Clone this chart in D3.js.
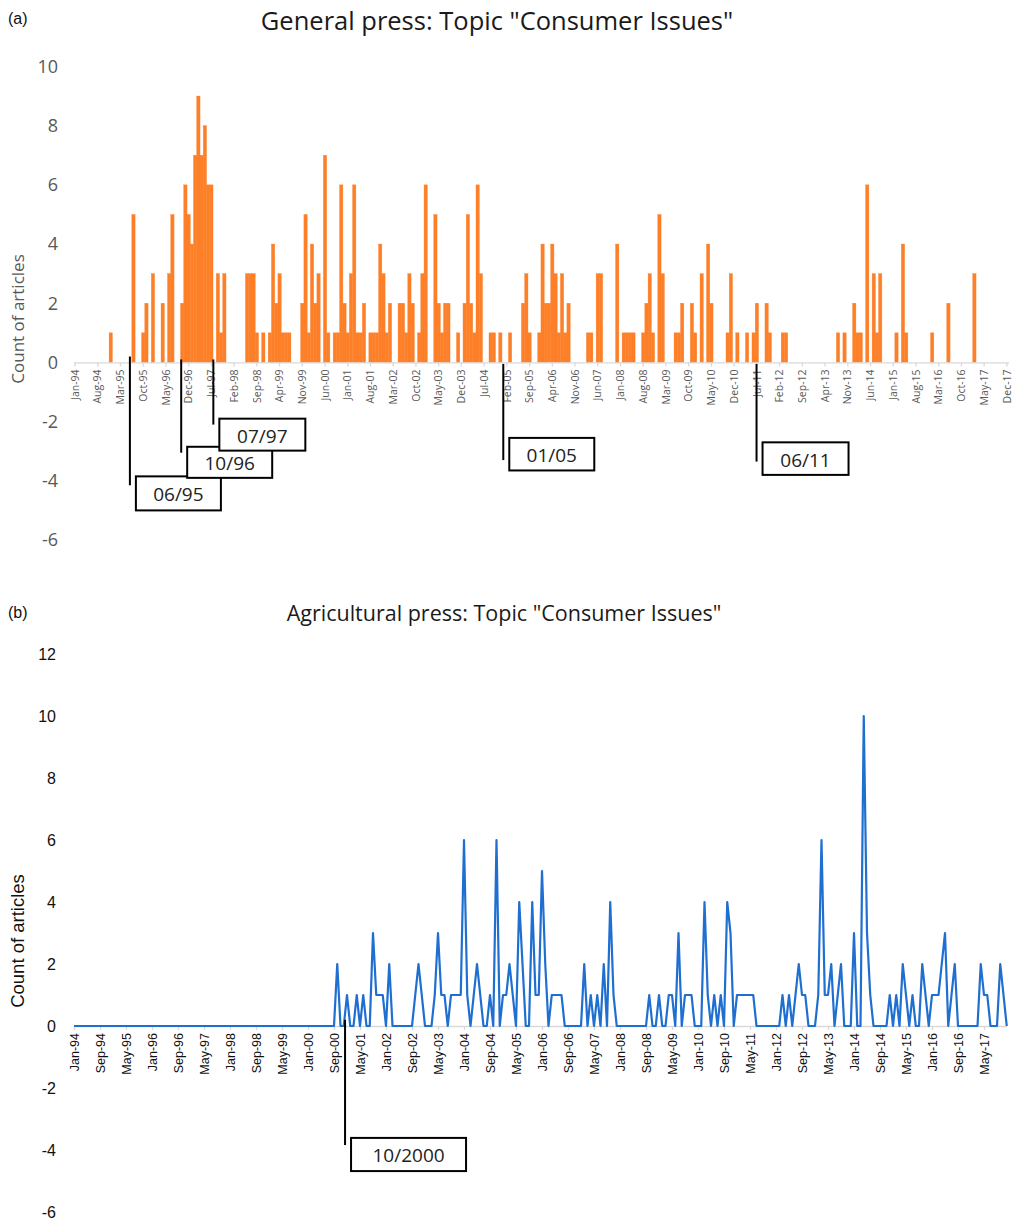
<!DOCTYPE html>
<html>
<head>
<meta charset="utf-8">
<script src="https://cdn.jsdelivr.net/npm/d3@7"></script>
<style>
    body { margin: 0; background: #fff; }
</style>
</head>
<body>
<div id="chart"></div>
<script>

// ---------------- data ----------------
const monthNames = ["Jan", "Feb", "Mar", "Apr", "May", "Jun", "Jul", "Aug", "Sep", "Oct", "Nov", "Dec"];
const firstYear = 1994;

// General press, monthly article counts, Jan-94 .. Dec-17 (one row per year)
const generalCounts = [
    0,0,0,0,0,0,0,0,0,0,0,1,   // 1994
    0,0,0,0,0,0,5,0,0,1,2,0,   // 1995
    3,0,0,2,0,3,5,0,0,2,6,5,   // 1996
    4,7,9,7,8,6,6,0,3,1,3,0,   // 1997
    0,0,0,0,0,3,3,3,1,0,1,0,   // 1998
    1,4,2,3,1,1,1,0,0,0,2,5,   // 1999
    1,4,2,3,0,7,1,0,1,1,6,2,   // 2000
    1,3,6,1,1,2,0,1,1,1,4,3,   // 2001
    1,2,0,0,2,2,1,3,2,0,1,3,   // 2002
    6,0,0,5,2,1,2,2,0,0,1,0,   // 2003
    2,5,2,1,6,3,0,0,1,1,0,1,   // 2004
    0,0,1,0,0,0,2,3,1,0,0,1,   // 2005
    4,2,2,4,3,1,3,1,2,0,0,0,   // 2006
    0,0,1,1,0,3,3,0,0,0,0,4,   // 2007
    0,1,1,1,1,0,0,1,2,3,1,0,   // 2008
    5,3,0,0,0,1,1,2,0,0,2,1,   // 2009
    0,3,0,4,2,0,0,0,0,1,3,0,   // 2010
    1,0,0,1,0,1,2,0,0,2,1,0,   // 2011
    0,0,1,1,0,0,0,0,0,0,0,0,   // 2012
    0,0,0,0,0,0,0,1,0,1,0,0,   // 2013
    2,1,1,0,6,0,3,1,3,0,0,0,   // 2014
    0,1,0,4,1,0,0,0,0,0,0,0,   // 2015
    1,0,0,0,0,2,0,0,0,0,0,0,   // 2016
    0,3,0,0,0,0,0,0,0,0,0,0    // 2017
];

// Agricultural press, monthly article counts, Jan-94 .. Dec-17
const agriCounts = [
    0,0,0,0,0,0,0,0,0,0,0,0,   // 1994
    0,0,0,0,0,0,0,0,0,0,0,0,   // 1995
    0,0,0,0,0,0,0,0,0,0,0,0,   // 1996
    0,0,0,0,0,0,0,0,0,0,0,0,   // 1997
    0,0,0,0,0,0,0,0,0,0,0,0,   // 1998
    0,0,0,0,0,0,0,0,0,0,0,0,   // 1999
    0,0,0,0,0,0,0,0,0,2,0,0,   // 2000
    1,0,0,1,0,1,0,0,3,1,1,1,   // 2001
    0,2,0,0,0,0,0,0,0,1,2,1,   // 2002
    0,0,0,1,3,1,1,0,1,1,1,1,   // 2003
    6,1,0,1,2,1,0,0,1,0,6,0,   // 2004
    1,1,2,1,0,4,2,0,0,4,1,1,   // 2005
    5,2,0,1,1,1,1,0,0,0,0,0,   // 2006
    0,2,0,1,0,1,0,2,0,4,1,0,   // 2007
    0,0,0,0,0,0,0,0,0,1,0,0,   // 2008
    1,0,0,1,1,0,3,0,1,1,1,0,   // 2009
    0,0,4,1,0,1,0,1,0,4,3,0,   // 2010
    1,1,1,1,1,1,0,0,0,0,0,0,   // 2011
    0,0,1,0,1,0,1,2,1,1,0,0,   // 2012
    0,1,6,1,1,2,0,1,2,0,0,0,   // 2013
    3,0,0,10,3,1,0,0,0,0,0,1,  // 2014
    0,1,0,2,1,0,1,0,0,2,1,0,   // 2015
    1,1,1,2,3,0,1,2,0,0,0,0,   // 2016
    0,0,0,2,1,1,0,0,0,2,1,0    // 2017
];

const generalTicks = d3.range(0, generalCounts.length, 7);   // Jan-94, Aug-94, Mar-95 ...
const agriTicks = d3.range(0, agriCounts.length, 8);         // Jan-94, Sep-94, May-95 ...
const generalYTicks = [-6, -4, -2, 0, 2, 4, 6, 8, 10];
const agriYTicks = [-6, -4, -2, 0, 2, 4, 6, 8, 10, 12];

const generalEvents = ["06/95", "10/96", "07/97", "01/05", "06/11"];
const agriEvents = ["10/2000"];

// where each callout sits (value units on y, month shift on x)
const calloutLayout = {
    "06/95":   {shift: -0.1, top: 0.2,  bottom: -4.15, boxTop: -3.85, boxBottom: -5.0,  boxWidth: 85},
    "10/96":   {shift: -0.3, top: 0.1,  bottom: -3.05, boxTop: -2.85, boxBottom: -3.9,  boxWidth: 85},
    "07/97":   {shift: 0.6,  top: 0.1,  bottom: -2.1,  boxTop: -1.9,  boxBottom: -2.98, boxWidth: 86},
    "01/05":   {shift: -0.1, top: -0.05, bottom: -3.3, boxTop: -2.55, boxBottom: -3.65, boxWidth: 85},
    "06/11":   {shift: 0.9,  top: -0.05, bottom: -3.35, boxTop: -2.7, boxBottom: -3.8,  boxWidth: 86},
    "10/2000": {shift: 2.4,  top: 0.2,  bottom: -3.84, boxTop: -3.61, boxBottom: -4.68, boxWidth: 115}
};

function monthLabel(i) {
    let yy = (firstYear + Math.floor(i / 12)) % 100;
    return monthNames[i % 12] + "-" + String(yy).padStart(2, "0");
}

function eventMonth(label) {
    let parts = label.split("/");
    let yr = +parts[1];
    if (yr < 100) yr += yr < 50 ? 2000 : 1900;
    return (yr - firstYear) * 12 + (+parts[0] - 1);
}


class PressPanel {

    constructor(_svg, _config) {
        this.svg = _svg;
        this.config = _config;
        this.initVis();
    }

    initVis() {
        let vis = this;
        let c = vis.config;

        vis.g = vis.svg.append("g");

        vis.y = d3.scaleLinear()
            .domain([d3.min(c.yTicks), d3.max(c.yTicks)])
            .range([c.yBottom, c.yTop]);

        if (c.type === "bar") {
            vis.x = d3.scaleBand()
                .domain(d3.range(c.values.length))
                .range([c.xLeft, c.xRight])
                .padding(0);
            vis.xPos = i => vis.x(0) + vis.x.step() * (i + 0.5);
        } else {
            vis.x = d3.scaleLinear()
                .domain([0, c.values.length - 1])
                .range([c.xLeft, c.xRight]);
            vis.xPos = i => vis.x(i);
        }

        // panel letter + title
        vis.g.append("text")
            .attr("x", 8)
            .attr("y", c.letterY)
            .attr("font-family", "'Liberation Sans', Arial, sans-serif")
            .attr("font-size", 16)
            .attr("fill", "#111")
            .text(c.letter);

        vis.g.append("text")
            .attr("x", c.titleX)
            .attr("y", c.titleY)
            .attr("text-anchor", "middle")
            .attr("font-family", "'Open Sans', 'Noto Sans', sans-serif")
            .attr("font-size", c.titleSize)
            .attr("fill", "#1a1a1a")
            .text(c.title);

        // y axis label
        vis.g.append("text")
            .attr("transform", `translate(${c.yLabelX}, ${c.yLabelY}) rotate(-90)`)
            .attr("text-anchor", "middle")
            .attr("dominant-baseline", "central")
            .attr("font-family", c.font)
            .attr("font-size", c.yLabelSize)
            .attr("fill", c.textColor)
            .text("Count of articles");

        // y ticks (labels only, plain hyphen for negatives)
        let yAxis = vis.g.append("g")
            .attr("transform", `translate(${c.yTickX}, 0)`)
            .call(d3.axisLeft(vis.y).tickValues(c.yTicks).tickSize(0).tickPadding(0).tickFormat(d => String(d)));
        yAxis.select(".domain").remove();
        yAxis.selectAll("text")
            .attr("font-family", c.font)
            .attr("font-size", c.yTickSize)
            .attr("fill", c.textColor);

        vis.updateVis();
    }

    updateVis() {
        let vis = this;
        let c = vis.config;

        if (c.type === "bar") {
            vis.g.append("g")
                .selectAll("rect")
                .data(c.values.map((v, i) => ({i: i, v: v})).filter(d => d.v > 0))
                .enter()
                .append("rect")
                .attr("x", d => vis.x(d.i))
                .attr("width", vis.x.bandwidth())
                .attr("y", d => vis.y(d.v))
                .attr("height", d => vis.y(0) - vis.y(d.v))
                .attr("fill", c.color)
                .attr("stroke", c.color)
                .attr("stroke-width", 0.4);
        }

        // x axis on the zero line
        let xAxis = vis.g.append("g")
            .attr("transform", `translate(0, ${vis.y(0)})`)
            .call(d3.axisBottom(vis.x).tickValues(c.ticks).tickFormat(monthLabel).tickSize(4).tickSizeOuter(0));
        xAxis.select(".domain").attr("stroke", "#d9d9d9").attr("stroke-width", 1.3);
        xAxis.selectAll(".tick line").attr("stroke", "#d9d9d9").attr("stroke-width", 1.3);
        xAxis.selectAll("text")
            .attr("transform", "rotate(-90)")
            .attr("x", -7)
            .attr("y", 0)
            .attr("dy", "0.35em")
            .style("text-anchor", "end")
            .attr("font-family", c.font)
            .attr("font-size", c.xTickSize)
            .attr("fill", c.textColor);

        if (c.type === "line") {
            let line = d3.line()
                .x((d, i) => vis.xPos(i))
                .y(d => vis.y(d));

            vis.g.append("path")
                .datum(c.values)
                .attr("d", line)
                .attr("fill", "none")
                .attr("stroke", c.color)
                .attr("stroke-width", 2.2)
                .attr("stroke-linejoin", "round");
        }

        // event callouts
        c.events.forEach(label => {
            let L = calloutLayout[label];
            let lx = vis.xPos(eventMonth(label) + L.shift);

            vis.g.append("line")
                .attr("x1", lx).attr("x2", lx)
                .attr("y1", vis.y(L.top))
                .attr("y2", vis.y(L.bottom))
                .attr("stroke", "#000")
                .attr("stroke-width", 2);

            let bx = lx + 6;
            let by = vis.y(L.boxTop);
            let bh = vis.y(L.boxBottom) - by;

            vis.g.append("rect")
                .attr("x", bx)
                .attr("y", by)
                .attr("width", L.boxWidth)
                .attr("height", bh)
                .attr("fill", "#fff")
                .attr("stroke", "#000")
                .attr("stroke-width", 2);

            vis.g.append("text")
                .attr("x", bx + L.boxWidth / 2)
                .attr("y", by + bh / 2 + 1)
                .attr("text-anchor", "middle")
                .attr("dominant-baseline", "central")
                .attr("font-family", "'Open Sans', 'Noto Sans', sans-serif")
                .attr("font-size", 19)
                .attr("fill", "#222")
                .text(label);
        });
    }
}


let svg = d3.select("#chart").append("svg")
    .attr("width", 1018)
    .attr("height", 1221);

svg.append("rect").attr("width", 1018).attr("height", 1221).attr("fill", "#fff");

new PressPanel(svg, {
    type: "bar",
    values: generalCounts,
    ticks: generalTicks,
    yTicks: generalYTicks,
    events: generalEvents,
    letter: "(a)",
    letterY: 24,
    title: 'General press: Topic "Consumer Issues"',
    titleX: 497, titleY: 30, titleSize: 25.5,
    xLeft: 73.4, xRight: 1008.5,
    yTop: 66.5, yBottom: 540,
    yTickX: 58, yTickSize: 18, xTickSize: 10.5,
    yLabelX: 17, yLabelY: 319, yLabelSize: 17,
    font: "'Open Sans', 'Noto Sans', sans-serif",
    textColor: "#595959",
    color: "#fd7f28"
});

new PressPanel(svg, {
    type: "line",
    values: agriCounts,
    ticks: agriTicks,
    yTicks: agriYTicks,
    events: agriEvents,
    letter: "(b)",
    letterY: 618,
    title: 'Agricultural press: Topic "Consumer Issues"',
    titleX: 504, titleY: 621, titleSize: 21.5,
    xLeft: 74, xRight: 1006.75,
    yTop: 654, yBottom: 1212,
    yTickX: 56, yTickSize: 16, xTickSize: 12.5,
    yLabelX: 17, yLabelY: 941, yLabelSize: 18.5,
    font: "'Liberation Sans', Arial, sans-serif",
    textColor: "#111",
    color: "#1f6fd1"
});

</script>
</body>
</html>
